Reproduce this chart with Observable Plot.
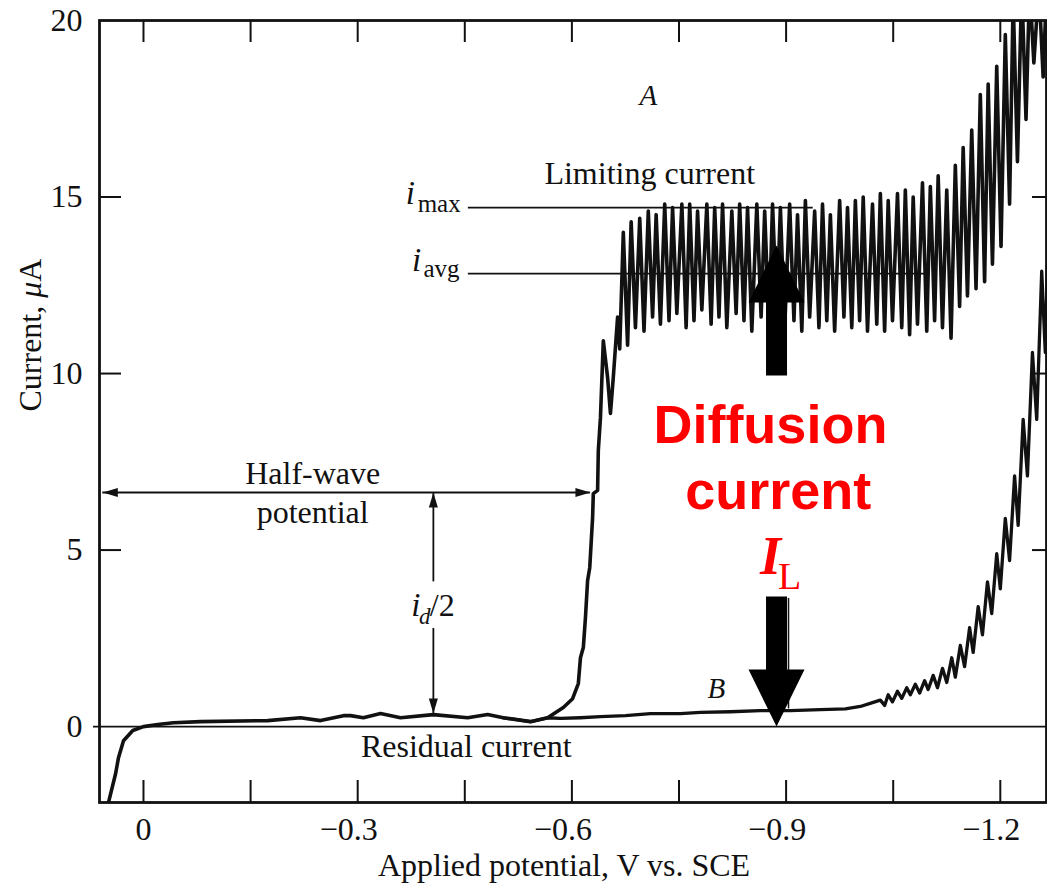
<!DOCTYPE html>
<html><head><meta charset="utf-8">
<script src="https://cdn.jsdelivr.net/npm/d3@7"></script>
<script src="https://cdn.jsdelivr.net/npm/@observablehq/plot@0.6"></script>
<style>body{margin:0;background:#fff}</style>
</head><body><div id="chart"></div>
<script>
// ---------- DATA ----------
// Curve A: smooth part (residual current and rising wave), potential V and current µA
const aWaveV = [0.049,0.039,0.035,0.028,0.015,0.000,-0.020,-0.042,-0.080,-0.174,-0.220,-0.248,-0.280,-0.290,-0.308,-0.332,-0.360,-0.406,-0.454,-0.482,-0.504,-0.542,-0.566,-0.588,-0.601,-0.609,-0.612,-0.616,-0.619,-0.622,-0.625,-0.629,-0.630,-0.636,-0.637,-0.640,-0.644,-0.650,-0.654,-0.658,-0.664,-0.667,-0.672,-0.678];
const aWaveI = [-2.15,-1.33,-0.88,-0.40,-0.11,0.00,0.06,0.11,0.14,0.17,0.25,0.17,0.31,0.31,0.25,0.37,0.25,0.34,0.25,0.34,0.25,0.14,0.25,0.54,0.79,1.22,1.95,2.24,3.09,4.14,4.50,5.92,6.60,6.69,7.82,8.75,10.93,9.89,8.87,9.89,11.60,10.70,14.00,10.80];
// Curve A: oscillation (drop) maxima and minima on the limiting-current plateau
const aTopV = [-0.683,-0.695,-0.707,-0.718,-0.730,-0.741,-0.754,-0.765,-0.776,-0.789,-0.800,-0.811,-0.824,-0.835,-0.846,-0.859,-0.870,-0.881,-0.892,-0.905,-0.916,-0.927,-0.940,-0.951,-0.962,-0.975,-0.986,-0.997,-1.008,-1.021,-1.032,-1.043,-1.056,-1.067,-1.078,-1.091,-1.102,-1.113,-1.125,-1.137,-1.148,-1.160,-1.172,-1.183,-1.195,-1.207,-1.218,-1.230,-1.241,-1.254,-1.265,-1.276];
const aTopI = [14.3,14.4,14.6,14.5,14.8,14.7,14.8,14.8,14.6,14.8,14.7,14.8,14.6,14.8,14.7,14.8,14.6,14.8,14.7,14.8,14.5,14.9,14.6,14.8,14.5,14.9,14.7,14.9,15.0,14.8,15.1,14.9,15.1,15.2,15.0,15.4,15.3,15.6,15.2,15.9,16.4,16.9,17.9,18.2,18.7,19.6,20.6,21,21,21,21,21];
const aBotV = [-0.689,-0.701,-0.713,-0.724,-0.736,-0.747,-0.760,-0.771,-0.782,-0.795,-0.806,-0.817,-0.830,-0.841,-0.852,-0.865,-0.876,-0.887,-0.898,-0.911,-0.922,-0.933,-0.946,-0.957,-0.968,-0.981,-0.992,-1.003,-1.014,-1.027,-1.038,-1.049,-1.062,-1.073,-1.084,-1.097,-1.108,-1.119,-1.131,-1.143,-1.154,-1.166,-1.178,-1.189,-1.201,-1.213,-1.224,-1.236,-1.247,-1.260,-1.271];
const aBotI = [11.3,11.2,11.6,11.4,11.5,11.7,11.3,11.5,11.8,11.4,11.6,11.3,11.7,11.5,11.2,11.6,11.4,11.7,11.3,11.5,11.2,11.6,11.3,11.5,11.2,11.6,11.3,11.5,11.2,11.4,11.2,11.5,11.3,11.1,11.4,11.2,11.5,11.3,11.0,11.9,12.2,12.4,12.6,13.1,13.6,14.8,16.0,17.2,18.8,18.4,20.5];
// Curve B: residual current of the supporting electrolyte only
const bV = [-0.504,-0.542,-0.566,-0.584,-0.612,-0.640,-0.675,-0.710,-0.752,-0.780,-0.822,-0.864,-0.906,-0.948,-0.983,-1.004,-1.021,-1.032,-1.038,-1.043,-1.049,-1.056,-1.062,-1.069,-1.074,-1.081,-1.087,-1.094,-1.099,-1.106,-1.112,-1.119,-1.125,-1.132,-1.137,-1.144,-1.150,-1.157,-1.162,-1.169,-1.175,-1.182,-1.188,-1.195,-1.200,-1.207,-1.213,-1.220,-1.225,-1.232,-1.238,-1.245,-1.251,-1.258,-1.263,-1.269];
const bI = [0.25,0.14,0.25,0.23,0.25,0.28,0.31,0.37,0.37,0.40,0.42,0.45,0.45,0.48,0.50,0.57,0.68,0.75,0.60,0.90,0.70,1.00,0.80,1.10,0.90,1.20,0.95,1.30,1.05,1.45,1.10,1.65,1.25,1.95,1.40,2.30,1.70,2.80,2.10,3.40,2.60,4.10,3.20,4.90,3.90,5.90,4.70,7.10,5.70,8.70,7.10,10.60,8.70,12.90,10.60,15.50];

// Axes
const xDomain = [0.0616, -1.2647];
const yDomain = [-2.15, 20];
const xTicks = [0, -0.15, -0.3, -0.45, -0.6, -0.75, -0.9, -1.05, -1.2];
const xLabelTicks = [0, -0.3, -0.6, -0.9, -1.2];
const xTickLabels = ["0", "−0.3", "−0.6", "−0.9", "−1.2"];
const yTicks = [5, 10, 15];
const yLabelTicks = [0, 5, 10, 15, 20];
const yTickLabels = ["0", "5", "10", "15", "20"];
const xTitle = "Applied potential, V vs. SCE";
const yTitle = "Current, μA";

// Annotations (anchors in data units)
const plainLabels = [
  {t: "Limiting current", v: -0.709, i: 15.67},
  {t: "Half-wave", v: -0.237, i: 7.17},
  {t: "potential", v: -0.237, i: 6.06},
  {t: "Residual current", v: -0.452, i: -0.57}
];
const curveLetters = [{t: "A", v: -0.707, i: 17.87}, {t: "B", v: -0.8025, i: 1.08}];
const iSymbols = [{t: "i", v: -0.380, i: 15.1}, {t: "i", v: -0.389, i: 13.2}, {t: "i", v: -0.388, i: 3.43}];
const iSubs = [{t: "max", v: -0.384, i: 14.79}, {t: "avg", v: -0.392, i: 12.97}];
const dSub = [{t: "d", v: -0.386, i: 3.12}];
const halfText = [{t: "/2", v: -0.401, i: 3.43}];
const halfWave = {i: 6.63, from: 0.057, to: -0.626};
const idHalf = {v: -0.406, top: 6.63, bottom: 0.37, gapTop: 4.1, gapBottom: 2.78};
const levelLines = [{i: 14.7, from: -0.455, to: -0.938}, {i: 12.83, from: -0.455, to: -1.102}];
const redWords = [{t: "Diffusion", v: -0.878, i: 8.53}, {t: "current", v: -0.889, i: 6.66}];
const redI = [{t: "I", v: -0.878, i: 4.82}];
const redSub = [{t: "L", v: -0.905, i: 4.25}];
const diffusionArrow = {v: -0.8866, upTip: 13.63, downTip: 0};
const guideLine = {v: -0.9034, from: 0.5, to: 3.63};

// ---------- BUILD ----------
const aData = aWaveV.map((v, k) => ({v, i: aWaveI[k]}));
aTopV.forEach((v, k) => {
  aData.push({v, i: aTopI[k]});
  if (k < aBotV.length) aData.push({v: aBotV[k], i: aBotI[k]});
});
const bData = bV.map((v, k) => ({v, i: bI[k]}));

const W = 1047, H = 892, mL = 99, mR = 1, mT = 20, mB = 90;
const plotW = W - mL - mR, plotH = H - mT - mB;
const serif = "'Liberation Serif', 'Times New Roman', serif";
const ink = "#111";

const sym = (pts) => ({draw(ctx) {
  ctx.moveTo(pts[0][0], pts[0][1]);
  for (const p of pts.slice(1)) ctx.lineTo(p[0], p[1]);
  ctx.closePath();
}});
const headUp = sym([[0,0],[4.5,15],[-4.5,15]]);
const headDown = sym([[0,0],[4.5,-15],[-4.5,-15]]);
const headLeft = sym([[0,0],[15,-4.5],[15,4.5]]);
const headRight = sym([[0,0],[-15,-4.5],[-15,4.5]]);
const bigDown = sym([[0,0],[28,-57],[10.5,-57],[10.5,-130],[-10.5,-130],[-10.5,-57],[-28,-57]]);
const bigUp = sym([[0,0],[28,57],[10.5,57],[10.5,130],[-10.5,130],[-10.5,57],[-28,57]]);

const txt = {x: "v", y: "i", text: "t", fill: ink, fontFamily: serif, stroke: "none"};

const chart = Plot.plot({
  width: W, height: H,
  marginLeft: mL, marginRight: mR, marginTop: mT, marginBottom: mB,
  x: {domain: xDomain, axis: null},
  y: {domain: yDomain, axis: null},
  style: {background: "#fff", fontFamily: serif, overflow: "visible"},
  marks: [
    Plot.ruleY([0], {stroke: ink, strokeWidth: 1.8, insetLeft: -6}),
    Plot.line(bData, {x: "v", y: "i", stroke: ink, strokeWidth: 3.3, strokeLinejoin: "round", clip: true}),
    Plot.line(aData, {x: "v", y: "i", stroke: ink, strokeWidth: 3.6, strokeLinejoin: "round", clip: true}),
    Plot.frame({stroke: ink, strokeWidth: 2.8}),
    Plot.ruleX(xTicks, {insetTop: plotH - 22, stroke: ink, strokeWidth: 2}),
    Plot.ruleX(xTicks, {insetBottom: plotH - 22, stroke: ink, strokeWidth: 2}),
    Plot.ruleY(yTicks, {insetRight: plotW - 22, stroke: ink, strokeWidth: 2}),
    Plot.ruleY(yTicks, {insetLeft: plotW - 14, stroke: ink, strokeWidth: 2}),
    // tick labels
    Plot.text(xLabelTicks.slice(0, 1), {x: d => d, frameAnchor: "bottom", dy: 37, text: (d, k) => xTickLabels[k], fontSize: 32, fill: ink}),
    Plot.text(xLabelTicks.slice(1), {x: d => d, frameAnchor: "bottom", dy: 37, dx: -9, text: (d, k) => xTickLabels[k + 1], fontSize: 32, fill: ink}),
    Plot.text(yLabelTicks, {y: d => d, frameAnchor: "left", textAnchor: "end", dx: -17, text: (d, k) => yTickLabels[k], fontSize: 32, fill: ink}),
    Plot.text([xTitle], {frameAnchor: "bottom", dy: 73, dx: -9, text: d => d, fontSize: 32, fill: ink}),
    Plot.text([yTitle], {frameAnchor: "left", dx: -69, rotate: -90, text: d => d, fontSize: 32, fill: ink}),
    // half-wave potential arrow
    Plot.ruleY([halfWave], {y: "i", x1: "from", x2: "to", stroke: ink, strokeWidth: 1.8}),
    Plot.dot([halfWave], {x: "from", y: "i", symbol: headLeft, fill: ink, stroke: "none"}),
    Plot.dot([halfWave], {x: "to", y: "i", symbol: headRight, fill: ink, stroke: "none"}),
    // i_d/2 arrow
    Plot.ruleX([idHalf], {x: "v", y1: "top", y2: "gapTop", stroke: ink, strokeWidth: 1.8}),
    Plot.ruleX([idHalf], {x: "v", y1: "gapBottom", y2: "bottom", stroke: ink, strokeWidth: 1.8}),
    Plot.dot([idHalf], {x: "v", y: "top", symbol: headUp, fill: ink, stroke: "none"}),
    Plot.dot([idHalf], {x: "v", y: "bottom", symbol: headDown, fill: ink, stroke: "none"}),
    // i_max, i_avg levels
    Plot.ruleY(levelLines, {y: "i", x1: "from", x2: "to", stroke: ink, strokeWidth: 1.8}),
    // texts
    Plot.text(plainLabels, {...txt, fontSize: 32}),
    Plot.text(curveLetters, {...txt, fontSize: 29, fontStyle: "italic"}),
    Plot.text(iSymbols, {...txt, fontSize: 33, fontStyle: "italic", textAnchor: "end"}),
    Plot.text(iSubs, {...txt, fontSize: 25, textAnchor: "start"}),
    Plot.text(dSub, {...txt, fontSize: 23, fontStyle: "italic", textAnchor: "start"}),
    Plot.text(halfText, {...txt, fontSize: 32, textAnchor: "start"}),
    // diffusion current annotation
    Plot.ruleX([guideLine], {x: "v", y1: "from", y2: "to", stroke: ink, strokeWidth: 1.5}),
    Plot.dot([diffusionArrow], {x: "v", y: "upTip", symbol: bigUp, fill: "#000", stroke: "none"}),
    Plot.dot([diffusionArrow], {x: "v", y: "downTip", symbol: bigDown, fill: "#000", stroke: "none"}),
    Plot.text(redWords, {x: "v", y: "i", text: "t", fill: "#ff0000", fontFamily: "'Liberation Sans', Arial, sans-serif", fontWeight: "bold", fontSize: 54}),
    Plot.text(redI, {x: "v", y: "i", text: "t", fill: "#ff0000", fontFamily: serif, fontStyle: "italic", fontWeight: "bold", fontSize: 54}),
    Plot.text(redSub, {x: "v", y: "i", text: "t", fill: "#ff0000", fontFamily: serif, fontSize: 38})
  ]
});

// italic µ in the y-axis title
d3.select(chart).selectAll("text").filter(function() { return this.textContent === yTitle; })
  .each(function() {
    const el = d3.select(this);
    el.text(null);
    el.append("tspan").text("Current, ");
    el.append("tspan").attr("font-style", "italic").text("μ");
    el.append("tspan").text("A");
  });

document.getElementById("chart").appendChild(chart);
</script></body></html>
